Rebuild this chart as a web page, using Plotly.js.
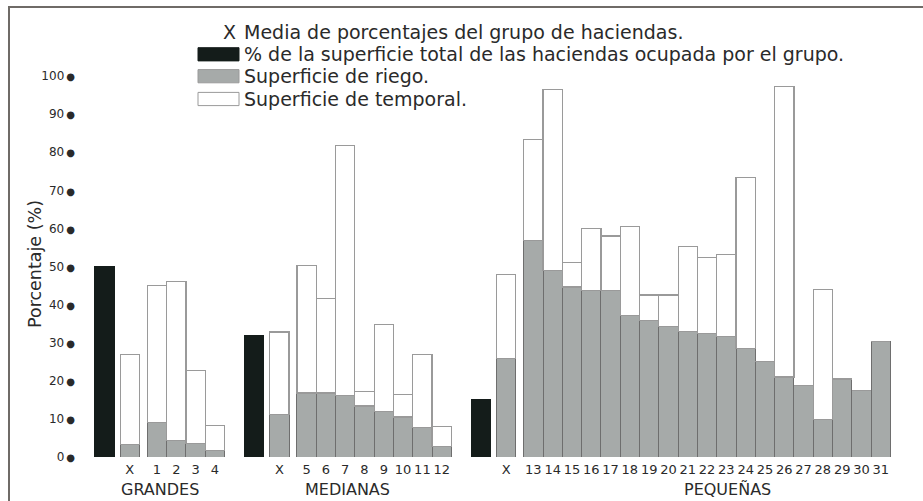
<!DOCTYPE html>
<html><head><meta charset="utf-8">
<script src="https://cdn.plot.ly/plotly-3.0.1.min.js"></script>
<style>
html,body{margin:0;padding:0;background:#fff;}
#wrap{position:relative;width:923px;height:501px;overflow:hidden;}
#chart{width:923px;height:501px;}
#frame{position:absolute;left:8px;top:6px;width:930px;height:510px;border-top:2px solid #6f6b67;border-left:2px solid #6f6b67;pointer-events:none;}
</style></head><body>
<div id="wrap"><div id="chart"></div><div id="frame"></div></div>
<script>
// ---------- DATA ----------
const groupNames = ["GRANDES", "MEDIANAS", "PEQUEÑAS"];
const groupShare = [50.0, 32.0, 15.2]; // % de la superficie total ocupada por el grupo

const grandesLabels   = ["X", "1", "2", "3", "4"];
const grandesRiego    = [3.2, 9.0, 4.3, 3.5, 1.8];
const grandesTemporal = [23.6, 36.0, 41.7, 19.3, 6.5];

const medianasLabels   = ["X", "5", "6", "7", "8", "9", "10", "11", "12"];
const medianasRiego    = [11.1, 16.8, 16.8, 16.1, 13.4, 12.0, 10.5, 7.7, 2.8];
const medianasTemporal = [21.7, 33.4, 24.8, 65.7, 3.8, 22.8, 6.0, 19.3, 5.2];

const pequenasLabels   = ["X", "13", "14", "15", "16", "17", "18", "19", "20", "21", "22",
                          "23", "24", "25", "26", "27", "28", "29", "30", "31"];
const pequenasRiego    = [25.8, 56.8, 48.9, 44.6, 43.8, 43.8, 37.2, 35.9, 34.2, 33.0, 32.4,
                          31.6, 28.4, 25.0, 21.0, 18.7, 9.8, 20.5, 17.4, 30.4];
const pequenasTemporal = [22.2, 26.5, 47.5, 6.4, 16.2, 14.2, 23.4, 6.6, 8.3, 22.3, 19.9,
                          21.6, 45.0, 0, 76.2, 0, 34.2, 0, 0, 0];

const legendTexts = [
  "Media de porcentajes del grupo de haciendas.",
  "% de la superficie total de las haciendas ocupada por el grupo.",
  "Superficie de riego.",
  "Superficie de temporal."
];
const yAxisTitle = "Porcentaje (%)";
const yTicks = [0, 10, 20, 30, 40, 50, 60, 70, 80, 90, 100];

// ---------- LAYOUT CONSTANTS ----------
const W = 923, H = 501;
const M = {l: 90, r: 13, t: 66, b: 44};
const PW = W - M.l - M.r, PH = H - M.t - M.b;
const PITCH = 19.3;             // px per bar
const X0PX = 104.5;             // px of first (black) bar centre
const GAP_BX = 1.31, GAP_XN = 1.41, GAP_GROUP = 2.03;
const xRange = [-(X0PX - M.l) / PITCH, -(X0PX - M.l) / PITCH + PW / PITCH];
const yRange = [0, PH / 3.81];
const labelShift = [0, 0, 2.4];

const groups = [
  {labels: grandesLabels, riego: grandesRiego, temporal: grandesTemporal},
  {labels: medianasLabels, riego: medianasRiego, temporal: medianasTemporal},
  {labels: pequenasLabels, riego: pequenasRiego, temporal: pequenasTemporal}
];

const blackX = [];
const barX = [], barRiego = [], barTemp = [], tickText = [];
const groupCentre = [];
let pos = 0;
groups.forEach((g, gi) => {
  const start = pos;
  blackX.push(pos);
  let p = pos + GAP_BX;
  g.labels.forEach((lab, i) => {
    if (i === 1) p += GAP_XN - 1;
    barX.push(p); barRiego.push(g.riego[i]); barTemp.push(g.temporal[i]); tickText.push(lab);
    p += 1;
  });
  const last = p - 1;
  groupCentre.push((start + last) / 2 + labelShift[gi]);
  pos = last + GAP_GROUP;
});

const FONT = "DejaVu Sans, Verdana, sans-serif";
const TXT = "#2a2a2a";

const traces = [
  {type: "bar", x: blackX, y: groupShare, width: 1, name: legendTexts[1],
   marker: {color: "#141c1a", line: {color: "#141c1a", width: 1}}, showlegend: false},
  {type: "bar", x: barX, y: barRiego, width: 1, name: legendTexts[2],
   marker: {color: "#a6aaa9", line: {color: "#6e6e6e", width: 1}}, showlegend: false},
  {type: "bar", x: barX, y: barTemp, width: 1, name: legendTexts[3],
   marker: {color: "#ffffff", line: {color: "#9a9a9a", width: 1.2}}, showlegend: false}
];

const px2x = px => (px - M.l) / PW;
const px2y = py => (M.t + PH - py) / PH;

const annotations = [];
// Group labels
groupNames.forEach((n, i) => annotations.push({
  xref: "x", yref: "paper", x: groupCentre[i], y: px2y(489.5), yanchor: "middle", xanchor: "center",
  text: n, showarrow: false, font: {family: FONT, size: 16, color: TXT}
}));
// Y title
annotations.push({xref: "paper", yref: "paper", x: px2x(35), y: px2y(264), text: yAxisTitle,
  textangle: -90, showarrow: false, xanchor: "center", yanchor: "middle",
  font: {family: FONT, size: 17.5, color: TXT}});
// Legend
const legY = [31.7, 54.3, 76.2, 99];
annotations.push({xref: "paper", yref: "paper", x: px2x(221), y: px2y(legY[0]), xanchor: "left", yanchor: "middle",
  text: "X", showarrow: false, font: {family: FONT, size: 19, color: TXT}});
legendTexts.forEach((t, i) => annotations.push({xref: "paper", yref: "paper", x: px2x(242), y: px2y(legY[i]),
  xanchor: "left", yanchor: "middle", text: t, showarrow: false, font: {family: FONT, size: 19, color: TXT}}));

const swatch = (i, fill, line) => ({type: "rect", xref: "paper", yref: "paper",
  x0: px2x(198), x1: px2x(239), y0: px2y(legY[i] - 6.6), y1: px2y(legY[i] + 6.6),
  fillcolor: fill, line: {color: line, width: 1}});
const shapes = [swatch(1, "#141c1a", "#141c1a"), swatch(2, "#a6aaa9", "#9a9a9a"), swatch(3, "#ffffff", "#9a9a9a")];

const layout = {
  width: W, height: H, margin: M, paper_bgcolor: "#fff", plot_bgcolor: "#fff",
  barmode: "stack", bargap: 0, showlegend: false,
  font: {family: FONT, color: TXT},
  xaxis: {range: xRange, showgrid: false, zeroline: false, showline: false, ticks: "",
    tickmode: "array", tickvals: barX, ticktext: tickText, tickangle: 0,
    tickfont: {family: FONT, size: 13, color: TXT}, ticklabelstandoff: 3, fixedrange: true},
  yaxis: {range: yRange, showgrid: false, zeroline: false, showline: false, ticks: "",
    tickmode: "array", tickvals: yTicks,
    ticktext: yTicks.map(v => v + "<span style='font-size:10px'>\u2009●</span>"),
    tickfont: {family: FONT, size: 12, color: TXT}, ticklabelstandoff: 14, fixedrange: true},
  annotations: annotations, shapes: shapes
};

Plotly.newPlot("chart", traces, layout, {displayModeBar: false, staticPlot: true});
</script>
</body></html>
